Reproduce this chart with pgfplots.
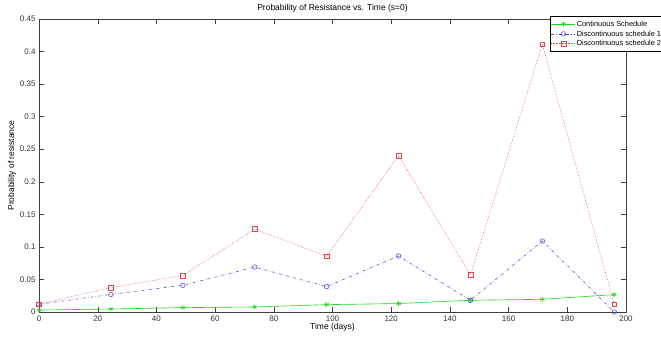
\documentclass[border=0pt]{standalone}
\usepackage{fontspec}
\setmainfont{Liberation Sans}
\usepackage{pgfplots}
\pgfplotsset{compat=1.18}
\definecolor{mgreen}{rgb}{0.1,0.85,0.1}
\definecolor{mblue}{rgb}{0.25,0.25,0.85}
\definecolor{mred}{rgb}{0.9,0.25,0.3}
\begin{document}
\begin{tikzpicture}
\begin{axis}[
  name=ax,
  scale only axis, width=587pt, height=293pt,
  xmin=0, xmax=200, ymin=0, ymax=0.45,
  xtick={0,20,40,60,80,100,120,140,160,180,200},
  ytick={0,0.05,0.1,0.15,0.2,0.25,0.3,0.35,0.4,0.45},
  yticklabels={0,0.05,0.1,0.15,0.2,0.25,0.3,0.35,0.4,0.45},
  /pgf/number format/assume math mode=true,
  tick align=inside, major tick length=5pt,
  xtick pos=both, ytick pos=both,
  axis line style={black!75}, every tick/.style={black!75},
  tick label style={font=\fontsize{8}{9}\selectfont, text=black!80},
  every axis title shift=0pt,
  title={Probability of Resistance vs. Time (s=0)},
  title style={at={(axis description cs:0.5,1.0375)}, anchor=center, font=\fontsize{8.5}{10}\selectfont, inner sep=0pt},
  xlabel={Time (days)},
  xlabel style={at={(axis description cs:0.5,-0.0512)}, anchor=center, font=\fontsize{8.5}{10}\selectfont, inner sep=0pt},
  ylabel={Probability of resistance},
  ylabel style={at={(axis description cs:-0.046,0.5)}, anchor=center, font=\fontsize{8.5}{10}\selectfont, inner sep=0pt},
  legend style={at={(0.8705,1.0102)}, anchor=north west, draw=black, fill=white,
    font=\fontsize{7.4}{8}\selectfont, inner xsep=1pt, inner ysep=3pt, row sep=0pt,
    nodes={inner sep=1pt, text height=6.1pt, text depth=1.7pt}},
  legend cell align=left,
  legend image code/.code={\draw[mark repeat=2,mark phase=2,#1] plot coordinates {(0pt,0pt) (12pt,0pt) (24pt,0pt)};},
]
\addplot[mgreen, solid, line width=0.6pt, mark=asterisk, mark size=2.5pt, mark options={solid}] coordinates {
(0,0.003) (24.5,0.0046) (49,0.0067) (73.5,0.0077) (98,0.0113) (122.5,0.013) (147,0.018) (171.5,0.0195) (196,0.0267)};
\addlegendentry{Continuous Schedule}
\addplot[mblue, dash dot, line width=0.5pt, mark=o, mark size=2.3pt, mark options={solid}] coordinates {
(0,0.012) (24.5,0.027) (49,0.041) (73.5,0.069) (98,0.039) (122.5,0.086) (147,0.018) (171.5,0.109) (196,0.0)};
\addlegendentry{Discontinuous schedule 1}
\addplot[mred, densely dotted, line width=0.5pt, mark=square, mark size=2.3pt, mark options={solid}] coordinates {
(0,0.012) (24.5,0.0375) (49,0.056) (73.5,0.1275) (98,0.0855) (122.5,0.24) (147,0.057) (171.5,0.411) (196,0.012)};
\addlegendentry{Discontinuous schedule 2}
\end{axis}
\pgfresetboundingbox
\path[use as bounding box] ([shift={(-39pt,-31pt)}]ax.south west) rectangle ([shift={(35pt,19pt)}]ax.north east);
\end{tikzpicture}
\end{document}
